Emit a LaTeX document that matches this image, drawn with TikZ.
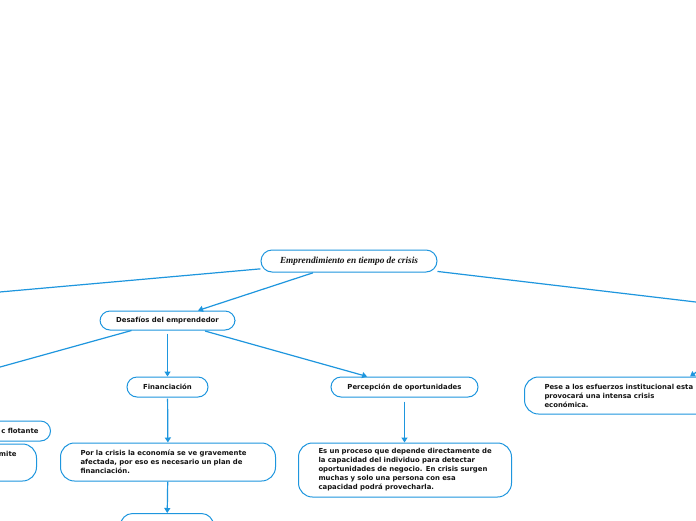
\documentclass[tikz,border=0pt]{standalone}
\usepackage{fontspec}
\newfontfamily\boxfont{DejaVu Sans}[BoldFont={DejaVu Sans Bold}]
\newfontfamily\titlefont{Liberation Serif}
\usetikzlibrary{arrows.meta}
\definecolor{mapblue}{RGB}{30,150,222}
\definecolor{txt}{RGB}{20,20,20}
\tikzset{
  pill/.style={draw=mapblue, line width=1pt, rounded corners=10pt, fill=white,
    font=\boxfont\bfseries\fontsize{6.9}{9}\selectfont, text=txt,
    inner xsep=16pt, inner ysep=2pt, minimum height=20pt},
  bigpill/.style={pill, rounded corners=14pt, align=left, inner xsep=20pt},
  conn/.style={draw=mapblue, line width=1.2pt},
  arr/.style={conn, -{Triangle[width=6pt,length=5pt]}},
}
\begin{document}
\begin{tikzpicture}[x=1pt,y=-1pt]
\useasboundingbox (0,0) rectangle (696,520);
\clip (0,0) rectangle (696,520);
\fill[white] (0,0) rectangle (696,520);

% nodes
\node[pill, minimum width=176pt, minimum height=22pt, rounded corners=11pt,
  font=\titlefont\bfseries\itshape\fontsize{9.3}{11}\selectfont] (root) at (349,261)
  {Emprendimiento en tiempo de crisis};
\node[pill, minimum width=135pt, minimum height=19pt] (des) at (167.5,320.5) {Desafíos del emprendedor};
\node[pill, minimum width=81pt] (fin) at (167.5,387) {Financiación};
\node[pill, minimum width=147pt] (per) at (404.5,387) {Percepción de oportunidades};
\node[bigpill, anchor=west, text width=196pt, minimum height=37pt] (pese) at (524,395.5)
  {\mbox{Pese a los esfuerzos institucional esta}\\\mbox{provocará una intensa crisis}\\económica.};
\node[bigpill, anchor=west, text width=175pt, minimum height=38pt] (porla) at (60,462)
  {\mbox{Por la crisis la economía se ve gravemente}\\\mbox{afectada, por eso es necesario un plan de}\\financiación.};
\node[bigpill, anchor=west, text width=173pt, minimum height=54pt] (esun) at (298,470)
  {\mbox{Es un proceso que depende directamente de}\\\mbox{la capacidad del individuo para detectar}\\\mbox{oportunidades de negocio. En crisis surgen}\\\mbox{muchas y solo una persona con esa}\\\mbox{capacidad podrá provecharla.}};
\node[pill, anchor=east, text width=110pt, align=right, inner xsep=12pt] (cflot) at (51,431) {c flotante};
\node[bigpill, anchor=east, text width=150pt, align=right, minimum height=37pt] (mite) at (37,462.5)
  {mite\\\mbox{}\\\mbox{}};
\node[pill, anchor=north, minimum width=93pt, minimum height=30pt, rounded corners=12pt] (bot) at (167,513) {};

% off-canvas ends
\coordinate (offL) at (-60,297.3);
\coordinate (offR) at (760,309.6);
\coordinate (offDL) at (-60,383.7);
\coordinate (offP) at (708,364);

% connectors
\draw[conn] (root) -- (offL);
\draw[conn] (root) -- (offR);
\draw[arr, shorten <=1pt] (root) -- (des);
\draw[conn] (des) -- (offDL);
\draw[arr, shorten <=3pt] (des) -- (fin);
\draw[arr, shorten <=2pt] (des) -- (per);
\draw[arr, shorten <=1pt] (fin) -- (porla);
\draw[arr] (porla) -- (bot);
\draw[arr, shorten <=4pt] (per.south) -- (per.south |- esun.north);
\draw[arr] (offP) -- ([xshift=166pt]pese.north west);
\end{tikzpicture}
\end{document}
